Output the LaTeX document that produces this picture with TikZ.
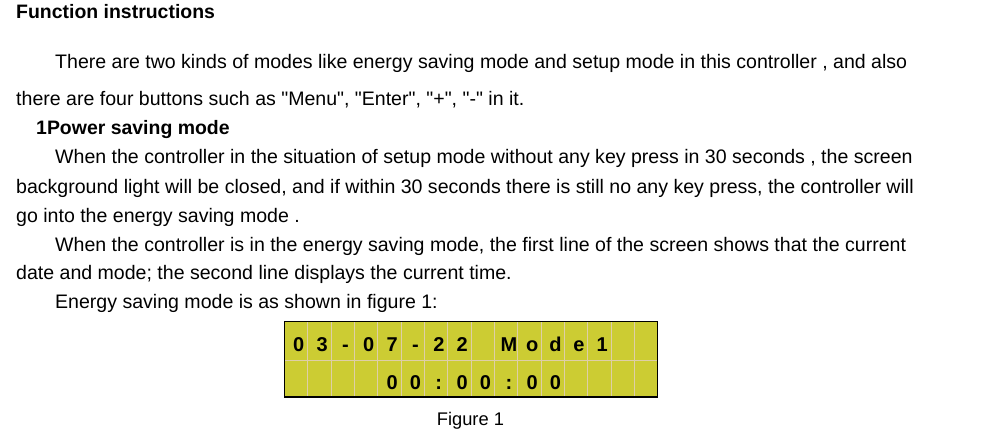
\documentclass[tikz,border=0pt]{standalone}
\usepackage{fontspec}
\setmainfont{Liberation Sans}[Ligatures=TeXOff]
\definecolor{lcdfill}{RGB}{204,204,51}
\definecolor{lcdgrid}{RGB}{222,206,168}
\tikzset{
  txt/.style={anchor=base west,inner sep=0pt,font=\fontsize{19.55}{23}\selectfont},
  hdr/.style={txt,font=\fontsize{19.45}{23}\selectfont\bfseries},
  lcdchar/.style={anchor=base,inner sep=0pt,font=\fontsize{20}{24}\selectfont\bfseries}
}
\begin{document}
\begin{tikzpicture}[x=1pt,y=-1pt]
      \useasboundingbox (0, 0) rectangle (984, 436);

      \node[hdr] (title) at (16, 18.5) {Function instructions};
      \node[txt] (intro1) at (55, 68.3) {There are two kinds of modes like energy saving mode and setup mode in this controller , and also};
      \node[txt] (intro2) at (16, 105) {there are four buttons such as "Menu", "Enter", "+", "-" in it.};
      \node[hdr] (powerhead) at (36, 134.5) {1Power saving mode};
      \node[txt] (save1) at (55, 163.5) {When the controller in the situation of setup mode without any key press in 30 seconds , the screen};
      \node[txt] (save2) at (16, 193) {background light will be closed, and if within 30 seconds there is still no any key press, the controller will};
      \node[txt] (save3) at (16, 222) {go into the energy saving mode .};
      \node[txt] (show1) at (55, 251.5) {When the controller is in the energy saving mode, the first line of the screen shows that the current};
      \node[txt] (show2) at (16, 279.5) {date and mode; the second line displays the current time.};
      \node[txt] (show3) at (55, 308) {Energy saving mode is as shown in figure 1:};

      % LCD, 16 x 2 cells
      \fill[lcdfill] (284.3, 321.3) rectangle (657.7, 397);
      \foreach \c in {1,...,15}
        \draw[lcdgrid,line width=0.8] (284.3+23.34*\c, 321.3) -- (284.3+23.34*\c, 397);
      \draw[lcdgrid,line width=0.8] (284.3, 360.3) -- (657.7, 360.3);
      \draw[line width=1.1] (284.3, 321.3) rectangle (657.7, 397);

      \foreach \c/\t in {1/0,2/3,3/-,4/0,5/7,6/-,7/2,8/2,10/M,11/o,12/d,13/e,14/1}
        \node[lcdchar] (top\c) at (287.1+23.34*\c-11.67, 351.7) {\t};
      \foreach \c/\t in {5/0,6/0,7/:,8/0,9/0,10/:,11/0,12/0}
        \node[lcdchar] (bot\c) at (287.1+23.34*\c-11.67, 389) {\t};

      \node[txt,anchor=base,font=\fontsize{18.3}{22}\selectfont] (caption) at (470.4, 425) {Figure 1};
    \end{tikzpicture}
\end{document}
